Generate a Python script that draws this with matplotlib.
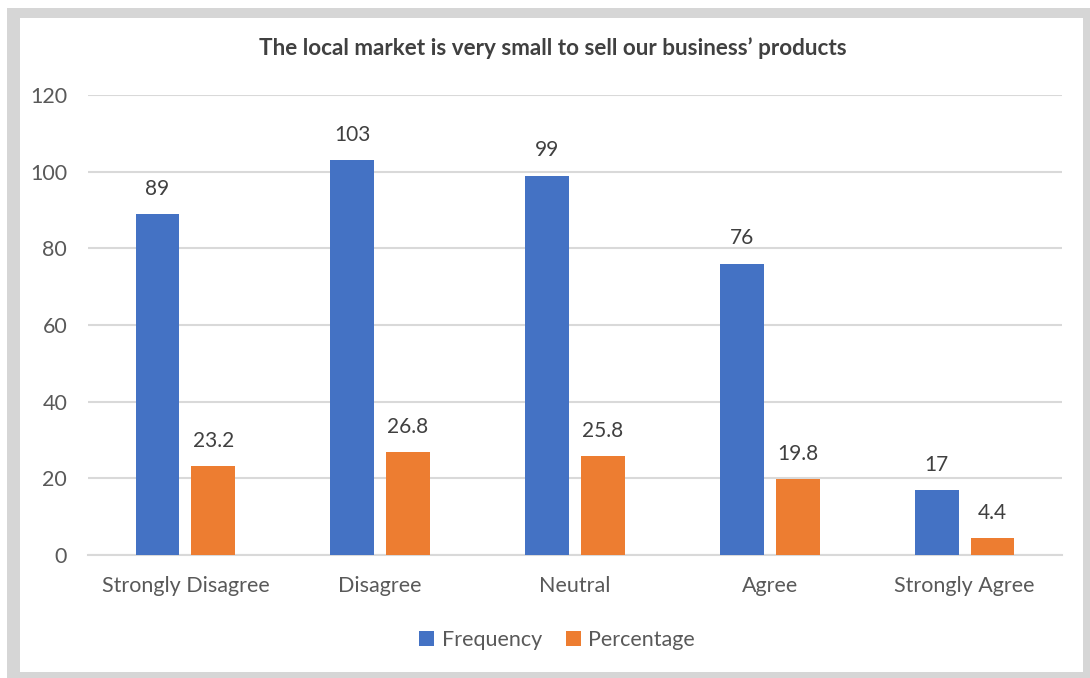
import matplotlib.pyplot as plt
import numpy as np
from matplotlib.patches import Rectangle

# Réponses à l'affirmation sur le marché local
categories = ["Strongly Disagree", "Disagree", "Neutral", "Agree", "Strongly Agree"]
frequency = [89, 103, 99, 76, 17]
percentage = [23.2, 26.8, 25.8, 19.8, 4.4]

blue = "#4472C4"
orange = "#ED7D31"
text_grey = "#595959"
grid_grey = "#D9D9D9"

plt.rcParams['font.family'] = ['Lato', 'DejaVu Sans']

fig = plt.figure(figsize=(10.9, 6.78), dpi=100)
W, H = 1090, 678

# Cadre gris autour du graphique
fig.patches.append(Rectangle((7 / W, 0), 1 - 7 / W, 1 - 8 / H, transform=fig.transFigure,
                             facecolor="#D6D6D6", edgecolor="none", zorder=-2))
fig.patches.append(Rectangle((20 / W, 6 / H), (1083 - 20) / W, (660 - 6) / H,
                             transform=fig.transFigure, facecolor="white",
                             edgecolor="none", zorder=-1))

ax = fig.add_axes([88 / W, (H - 555) / H, (1062 - 88) / W, (555 - 95) / H])
ax.set_facecolor("none")

x = np.arange(len(categories))
width = 0.225
offset = 0.143

bars_f = ax.bar(x - offset, frequency, width, color=blue, label="Frequency", zorder=3)
bars_p = ax.bar(x + offset, percentage, width, color=orange, label="Percentage", zorder=3)

for bars, vals in ((bars_f, frequency), (bars_p, percentage)):
    for b, v in zip(bars, vals):
        ax.annotate(f"{v:g}", (b.get_x() + b.get_width() / 2, v),
                    xytext=(0, 11), textcoords="offset points",
                    ha="center", va="bottom", fontsize=15, color="#404040")

ax.set_xlim(-0.5, len(categories) - 0.5)
ax.set_ylim(0, 120)
ax.set_yticks(range(0, 121, 20))
ax.set_xticks(x)
ax.set_xticklabels(categories)
ax.tick_params(axis="both", length=0, labelsize=15.5, labelcolor=text_grey)
ax.tick_params(axis="x", pad=15)
ax.tick_params(axis="y", pad=15)
ax.grid(axis="y", color=grid_grey, linewidth=1.5, zorder=0)
for s in ["top", "right", "left"]:
    ax.spines[s].set_visible(False)
ax.spines["bottom"].set_color(grid_grey)
ax.spines["bottom"].set_linewidth(1.5)

fig.text(553 / W, 1 - 48 / H, "The local market is very small to sell our business\u2019 products",
         ha="center", va="center", fontsize=16.2, fontweight="bold", color="#404040")

ax.legend(loc="center", bbox_to_anchor=(557 / W, 1 - 640 / H), bbox_transform=fig.transFigure,
          ncol=2, frameon=False, fontsize=15.5, labelcolor=text_grey,
          handlelength=0.7, handleheight=0.7, handletextpad=0.35, columnspacing=1.1)

fig.savefig("out.png", dpi=100)
